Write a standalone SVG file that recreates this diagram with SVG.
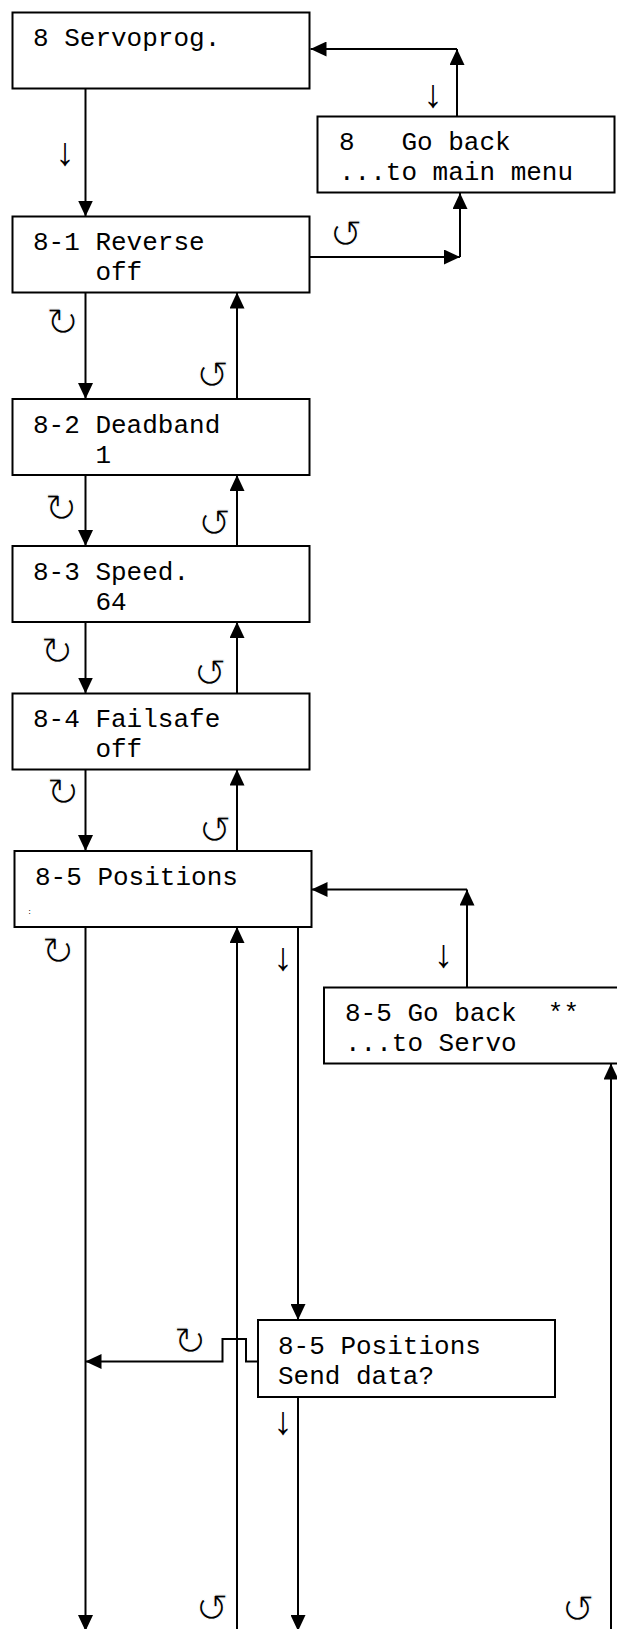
<svg xmlns="http://www.w3.org/2000/svg" width="617" height="1629" viewBox="0 0 617 1629" xml:space="preserve">
<style>
.box{fill:#fff;stroke:#000;stroke-width:2}
.t{font-family:"Liberation Mono","Courier New",monospace;font-size:26px;fill:#000;white-space:pre}
.c{fill:none;stroke:#000;stroke-width:2}
.dn{font-family:"Liberation Sans",Arial,sans-serif;font-size:39px;fill:#000;text-anchor:middle}
.cw{font-family:"DejaVu Sans",sans-serif;font-size:40px;fill:#000;stroke:#fff;stroke-width:1.2px;text-anchor:middle}
.tiny{font-family:"Liberation Mono",monospace;font-size:7px;fill:#000}
</style>
<defs>
<marker id="ah" markerUnits="userSpaceOnUse" markerWidth="16" markerHeight="15" refX="16" refY="7.5" orient="auto" viewBox="0 0 16 15">
<path d="M0,0 L16,7.5 L0,15 z" fill="#000"/>
</marker>
</defs>
<rect width="617" height="1629" fill="#fff"/>
<g id="connectors">
<path class="c" d="M85.5,88.5 V216.5" marker-end="url(#ah)"/>
<path class="c" d="M457,116.5 V49" marker-end="url(#ah)"/>
<path class="c" d="M457,49 H310.5" marker-end="url(#ah)"/>
<path class="c" d="M309.5,257 H460" marker-end="url(#ah)"/>
<path class="c" d="M460,257 V193" marker-end="url(#ah)"/>
<path class="c" d="M85.5,292.5 V399" marker-end="url(#ah)"/>
<path class="c" d="M237,399 V292.5" marker-end="url(#ah)"/>
<path class="c" d="M85.5,475 V546" marker-end="url(#ah)"/>
<path class="c" d="M237,546 V475" marker-end="url(#ah)"/>
<path class="c" d="M85.5,622 V693.5" marker-end="url(#ah)"/>
<path class="c" d="M237,693.5 V622" marker-end="url(#ah)"/>
<path class="c" d="M85.5,769.5 V851" marker-end="url(#ah)"/>
<path class="c" d="M237,851 V769.5" marker-end="url(#ah)"/>
<path class="c" d="M467,987.5 V889.5" marker-end="url(#ah)"/>
<path class="c" d="M467,889.5 H311.5" marker-end="url(#ah)"/>
<path class="c" d="M611,1640 V1063.5" marker-end="url(#ah)"/>
<path class="c" d="M298,927 V1320" marker-end="url(#ah)"/>
<path class="c" d="M258,1361.5 H246 V1339 H222.5 V1361.5 H85.5" marker-end="url(#ah)"/>
<path class="c" d="M85.5,927 V1631" marker-end="url(#ah)"/>
<path class="c" d="M237,1640 V927" marker-end="url(#ah)"/>
<path class="c" d="M298,1397 V1631" marker-end="url(#ah)"/>
<text class="dn" x="65" y="165">↓</text>
<text class="dn" x="433" y="107">↓</text>
<text class="dn" x="443.5" y="967">↓</text>
<text class="dn" x="283" y="970">↓</text>
<text class="dn" x="283" y="1434">↓</text>
<text class="cw" x="62.5" y="336">↻</text>
<text class="cw" x="61" y="522">↻</text>
<text class="cw" x="57" y="665">↻</text>
<text class="cw" x="63" y="806">↻</text>
<text class="cw" x="58" y="965">↻</text>
<text class="cw" x="190" y="1355">↻</text>
<text class="cw" x="346" y="248">↺</text>
<text class="cw" x="212.5" y="389">↺</text>
<text class="cw" x="214.5" y="537">↺</text>
<text class="cw" x="210" y="687">↺</text>
<text class="cw" x="215" y="844">↺</text>
<text class="cw" x="212" y="1622">↺</text>
<text class="cw" x="578" y="1623">↺</text>
</g>
<g id="n8">
<rect class="box" x="12.5" y="12.5" width="297" height="76"/>
<text class="t" x="33" y="46">8 Servoprog.</text>
</g>
<g id="n8-back">
<rect class="box" x="317.5" y="116.5" width="297" height="76"/>
<text class="t" x="339" y="150">8   Go back</text>
<text class="t" x="339" y="180">...to main menu</text>
</g>
<g id="n8-1">
<rect class="box" x="12.5" y="216.5" width="297" height="76"/>
<text class="t" x="33" y="250">8-1 Reverse</text>
<text class="t" x="33" y="280">    off</text>
</g>
<g id="n8-2">
<rect class="box" x="12.5" y="399" width="297" height="76"/>
<text class="t" x="33" y="433">8-2 Deadband</text>
<text class="t" x="33" y="463">    1</text>
</g>
<g id="n8-3">
<rect class="box" x="12.5" y="546" width="297" height="76"/>
<text class="t" x="33" y="580">8-3 Speed.</text>
<text class="t" x="33" y="610">    64</text>
</g>
<g id="n8-4">
<rect class="box" x="12.5" y="693.5" width="297" height="76"/>
<text class="t" x="33" y="727">8-4 Failsafe</text>
<text class="t" x="33" y="757">    off</text>
</g>
<g id="n8-5">
<rect class="box" x="14.5" y="851" width="297" height="76"/>
<text class="t" x="35" y="885">8-5 Positions</text>
<text class="tiny" x="27.5" y="914">:</text>
</g>
<g id="n8-5-back">
<rect class="box" x="324" y="987.5" width="297" height="76"/>
<text class="t" x="345" y="1021">8-5 Go back  **</text>
<text class="t" x="345" y="1051">...to Servo</text>
</g>
<g id="n8-5-send">
<rect class="box" x="258" y="1320" width="297" height="77"/>
<text class="t" x="278" y="1353.5">8-5 Positions</text>
<text class="t" x="278" y="1383.5">Send data?</text>
</g>
</svg>
